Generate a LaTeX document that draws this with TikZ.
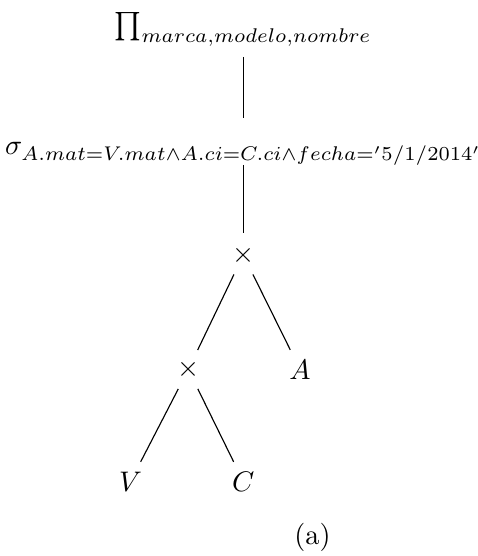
\documentclass[tikz,border=0pt]{standalone}
\begin{document}
\begin{tikzpicture}[x=0.353pt,y=-0.353pt,
  tnode/.style={inner sep=3.33pt},
  edge/.style={draw,line width=0.4pt}]
\useasboundingbox (0,0) rectangle (477,556);
\node[tnode,anchor=base,inner ysep=1pt] (pi) at (243.3,34) {$\prod_{marca,modelo,nombre}$};
\node[tnode,anchor=base] (sigma) at (243.3,155) {$\sigma_{A.mat=V.mat\wedge A.ci=C.ci\wedge fecha='5/1/2014'}$};
\node[tnode] (x1) at (243.3,255) {$\times$};
\node[tnode] (x2) at (188.3,369.5) {$\times$};
\node[tnode] (a) at (300,369.5) {$A$};
\node[tnode] (v) at (130.5,481.5) {$V$};
\node[tnode] (c) at (243.3,481.5) {$C$};
\node[anchor=base] (lbl) at (312.5,544) {(a)};
\draw[edge] ([yshift=-8.12pt]pi.base) -- ([yshift=13.06pt]sigma.base);
\draw[edge] ([yshift=-3.53pt]sigma.base) -- ([yshift=7.77pt]x1.center);
\draw[edge] (x1) -- (x2);
\draw[edge] (x1) -- (a);
\draw[edge] (x2) -- (v);
\draw[edge] (x2) -- (c);
\end{tikzpicture}
\end{document}
